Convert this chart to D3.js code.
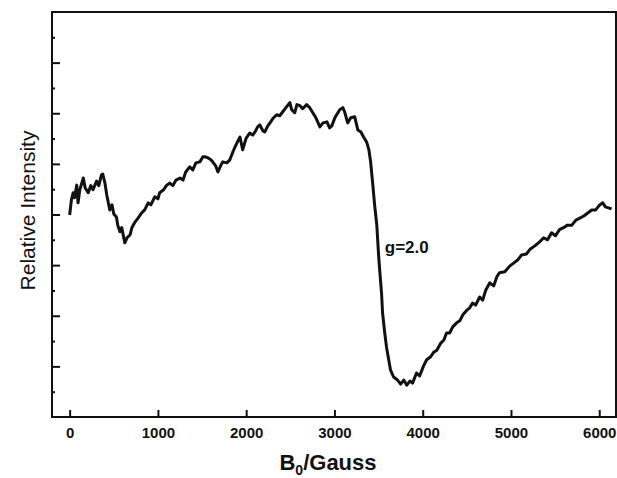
<!DOCTYPE html>
<meta charset=utf-8>
<script src="https://cdn.jsdelivr.net/npm/d3@7"></script>
<style>
body { margin: 0; background: white }
svg { display: block; font-family: "Liberation Sans", Arial, sans-serif }
</style>
<body>
<svg width=617 height=478 id=chart></svg>
<script>
// field values (Gauss) and relative intensity
const field = [0,20,40,55,80,95,115,155,175,210,240,265,305,330,360,375,400,420,455,480,500,530,545,570,590,625,650,685,705,740,775,815,850,890,920,965,1000,1020,1065,1100,1135,1170,1205,1250,1285,1315,1360,1395,1430,1475,1510,1530,1565,1600,1620,1655,1680,1715,1735,1780,1815,1850,1870,1905,1930,1960,2000,2040,2075,2100,2130,2155,2190,2210,2245,2270,2300,2345,2380,2415,2450,2495,2515,2550,2575,2610,2640,2685,2720,2755,2790,2835,2870,2915,2945,2970,3005,3025,3060,3095,3115,3150,3185,3230,3265,3300,3330,3365,3390,3410,3435,3455,3480,3500,3515,3535,3545,3570,3590,3615,3635,3670,3715,3750,3785,3820,3855,3885,3930,3965,4010,4045,4090,4125,4160,4205,4240,4270,4305,4340,4385,4420,4455,4500,4530,4565,4600,4645,4680,4715,4760,4805,4840,4870,4930,4985,5030,5075,5120,5175,5220,5270,5325,5370,5415,5460,5505,5550,5595,5640,5690,5735,5780,5825,5870,5915,5960,6005,6040,6070,6105,6140];
const intensity = [3.99,4.29,4.43,4.33,4.58,4.23,4.49,4.72,4.53,4.43,4.57,4.49,4.66,4.57,4.78,4.80,4.62,4.39,4.09,4.19,4.01,3.95,3.79,3.66,3.74,3.44,3.54,3.60,3.74,3.85,3.93,4.03,4.09,4.23,4.19,4.35,4.31,4.43,4.49,4.58,4.62,4.57,4.68,4.72,4.68,4.84,4.94,4.88,5.02,5.04,5.14,5.14,5.12,5.08,5.04,4.96,4.84,4.98,5.04,5.02,5.08,5.24,5.32,5.45,5.53,5.28,5.51,5.61,5.57,5.63,5.73,5.77,5.65,5.63,5.75,5.81,5.89,5.97,5.95,6.03,6.11,6.21,6.07,6.01,6.17,6.15,6.09,6.17,6.11,6.01,5.91,5.73,5.81,5.83,5.71,5.75,5.91,5.97,6.07,6.11,6.03,5.81,5.91,5.93,5.67,5.63,5.53,5.43,5.28,5.04,4.58,4.19,3.79,3.20,2.85,2.41,2.06,1.66,1.38,1.13,0.93,0.79,0.73,0.65,0.73,0.63,0.71,0.67,0.87,0.81,1.01,1.13,1.19,1.28,1.32,1.46,1.52,1.66,1.66,1.78,1.86,1.90,2.02,2.11,2.15,2.25,2.21,2.37,2.31,2.51,2.65,2.59,2.77,2.85,2.87,2.98,3.04,3.10,3.20,3.22,3.32,3.38,3.46,3.54,3.50,3.64,3.58,3.70,3.74,3.79,3.79,3.89,3.93,3.97,4.03,4.09,4.09,4.19,4.23,4.15,4.13,4.11];
const xTicks = [0,1000,2000,3000,4000,5000,6000];
const yMajor = [1,2,3,4,5,6,7];
const yMinor = [0.5,1.5,2.5,3.5,4.5,5.5,6.5,7.5];
const annotation = {text: "g=2.0", x: 3570, y: 3.24};

const margin = {top: 12, right: 1, bottom: 61, left: 52},
	W = 617, H = 478;
const svg = d3.select("#chart");

const x = d3.scaleLinear().domain([-200, 6190]).range([margin.left, W - margin.right]);
const y = d3.scaleLinear().domain([0, 8]).range([H - margin.bottom, margin.top]);

// frame
svg.append("rect")
	.attr("x", x.range()[0]).attr("y", y.range()[1])
	.attr("width", x.range()[1] - x.range()[0])
	.attr("height", y.range()[0] - y.range()[1])
	.attr("fill", "none").attr("stroke", "#111").attr("stroke-width", 2);

// X axis
svg.append("g")
	.attr("transform", `translate(0,${y.range()[0]})`)
	.call(d3.axisBottom(x).tickValues(xTicks).tickSize(-7).tickPadding(10).tickFormat(d3.format("d")))
	.call(g => g.select(".domain").remove())
	.call(g => g.selectAll(".tick line").attr("stroke", "#111").attr("stroke-width", 2))
	.call(g => g.selectAll(".tick text").attr("fill", "#111")
		.attr("font-size", "15px").attr("font-weight", "bold").attr("font-family", "Liberation Sans, Arial, sans-serif"));

// Y axis, major and minor ticks, no labels
svg.append("g")
	.attr("transform", `translate(${x.range()[0]},0)`)
	.call(d3.axisLeft(y).tickValues(yMajor).tickSize(-8).tickFormat(""))
	.call(g => g.select(".domain").remove())
	.call(g => g.selectAll(".tick line").attr("stroke", "#111").attr("stroke-width", 2));
svg.append("g")
	.attr("transform", `translate(${x.range()[0]},0)`)
	.call(d3.axisLeft(y).tickValues(yMinor).tickSize(-3).tickFormat(""))
	.call(g => g.select(".domain").remove())
	.call(g => g.selectAll(".tick line").attr("stroke", "#111").attr("stroke-width", 2));

// trace
const data = field.map((f, i) => [f, intensity[i]]);
svg.append("path")
	.datum(data)
	.attr("fill", "none")
	.attr("stroke", "#111")
	.attr("stroke-width", 3)
	.attr("stroke-linejoin", "round")
	.attr("d", d3.line().x(d => x(d[0])).y(d => y(d[1])));

// annotation
svg.append("text")
	.attr("x", x(annotation.x)).attr("y", y(annotation.y))
	.attr("font-size", "17px").attr("font-weight", "bold").attr("fill", "#111")
	.text(annotation.text);

// axis titles
const xt = svg.append("text")
	.attr("x", 328).attr("y", 470)
	.attr("text-anchor", "middle")
	.attr("font-size", "22px").attr("font-weight", "bold").attr("fill", "#111");
xt.append("tspan").text("B");
xt.append("tspan").attr("font-size", "14px").attr("dy", 5).text("0");
xt.append("tspan").attr("dy", -5).text("/Gauss");

svg.append("text")
	.attr("transform", `translate(35,${(y.range()[0] + y.range()[1]) / 2 - 4}) rotate(-90)`)
	.attr("text-anchor", "middle")
	.attr("font-size", "21px").attr("fill", "#111")
	.text("Relative Intensity");
</script>
</body>
